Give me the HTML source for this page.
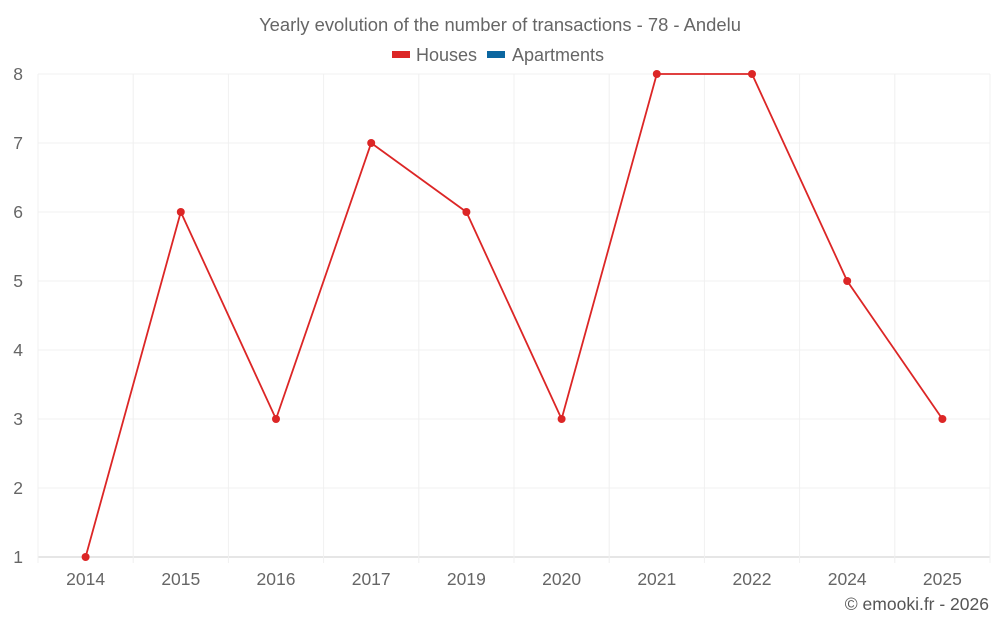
<!DOCTYPE html>
<html><head><meta charset="utf-8"><style>
body{margin:0;background:#fff;font-family:"Liberation Sans",sans-serif;}
svg text{font-family:"Liberation Sans",sans-serif;}
</style></head><body>
<svg id="chart" width="1000" height="625" xmlns="http://www.w3.org/2000/svg">
<text x="500" y="31" text-anchor="middle" font-size="18.4" fill="#666">Yearly evolution of the number of transactions - 78 - Andelu</text>
<g><rect x="392" y="51" width="18" height="7" fill="#dc2626"/><text x="416" y="61" font-size="18" fill="#666">Houses</text></g>
<g><rect x="487" y="51" width="18" height="7" fill="#0b66a0"/><text x="512" y="61" font-size="18" fill="#666">Apartments</text></g>
<g id="grid"></g><g id="axes"></g><g id="series"></g>
<text x="989" y="610" text-anchor="end" font-size="17.5" fill="#555">© emooki.fr - 2026</text>
</svg>
<script>
const categories=["2014","2015","2016","2017","2019","2020","2021","2022","2024","2025"];
const houses=[1,6,3,7,6,3,8,8,5,3];
const yTicks=[1,2,3,4,5,6,7,8];
const L=38,R=990,T=74,B=557,yMin=1,yMax=8;
const NS="http://www.w3.org/2000/svg";
const bw=(R-L)/categories.length;
const x=i=>L+bw*(i+0.5);
const y=v=>B-(v-yMin)/(yMax-yMin)*(B-T);
function mk(t,a,p){const e=document.createElementNS(NS,t);for(const k in a)e.setAttribute(k,a[k]);p.appendChild(e);return e;}
const grid=document.getElementById('grid'),axes=document.getElementById('axes'),ser=document.getElementById('series');
yTicks.forEach(v=>{
 const g=mk('line',{x1:L,x2:R,y1:y(v),y2:y(v),stroke:v===yMin?'#ccc':'#f0f0f0'},grid);
 
 
 const t=mk('text',{x:23,y:y(v)+6,'text-anchor':'end','font-size':17.5,fill:'#666'},axes);t.textContent=v;
 
 
});
for(let i=0;i<=categories.length;i++){
 const g=mk('line',{x1:L+bw*i,x2:L+bw*i,y1:T,y2:B+6,stroke:'#f0f0f0'},grid);
 
 
}
categories.forEach((c,i)=>{
 const t=mk('text',{x:x(i),y:585,'text-anchor':'middle','font-size':17.5,fill:'#666'},axes);t.textContent=c;
 
 
});
const pl=mk('polyline',{points:houses.map((v,i)=>x(i)+','+y(v)).join(' '),fill:'none',stroke:'#dc2626','stroke-width':1.8},ser);


houses.forEach((v,i)=>{
 const c=mk('circle',{cx:x(i),cy:y(v),r:4,fill:'#dc2626'},ser);
 
 
});
</script>
</body></html>
